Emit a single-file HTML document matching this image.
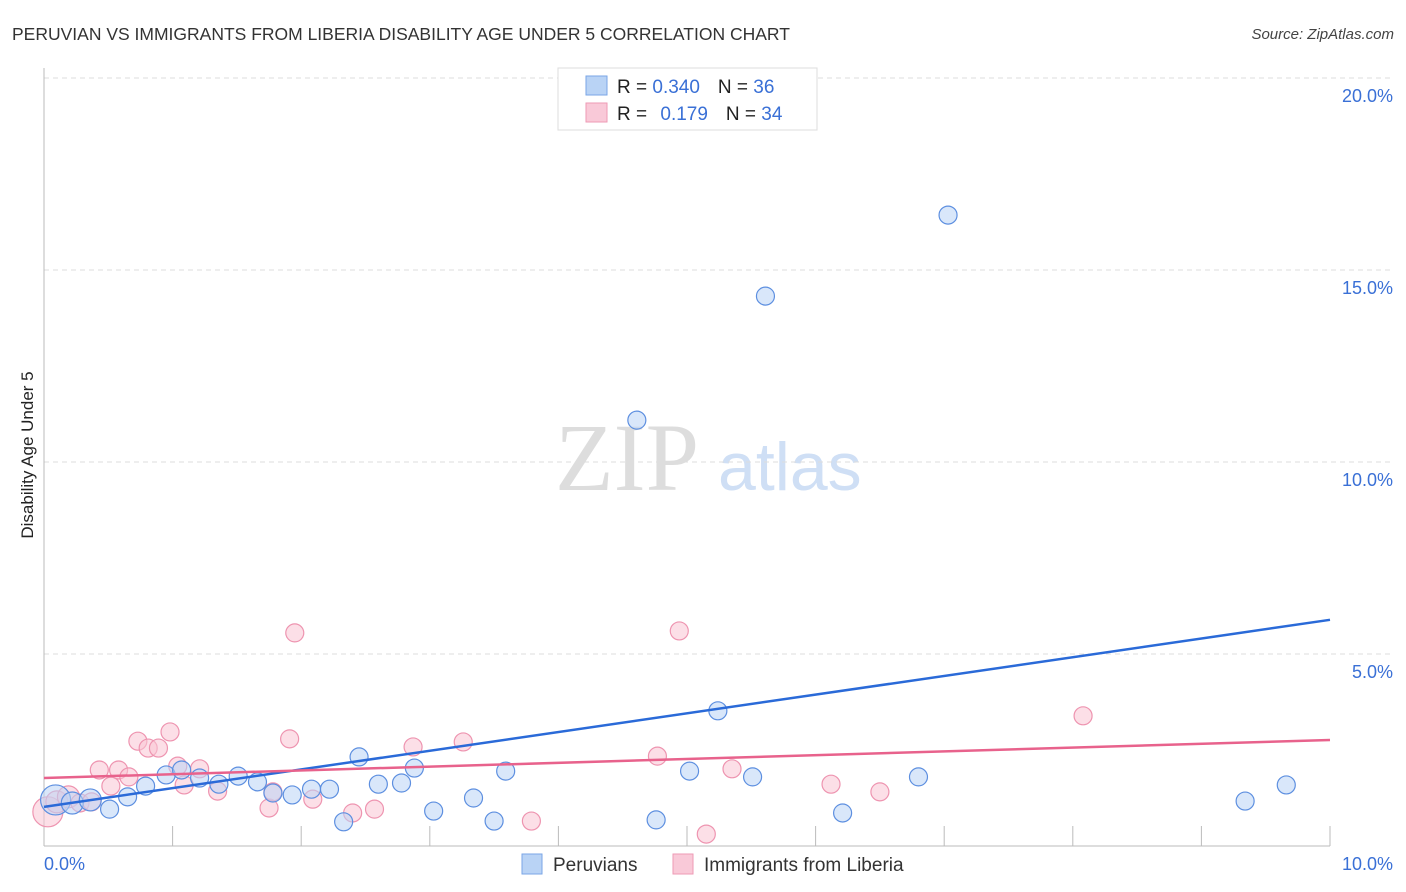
<!DOCTYPE html>
<html><head><meta charset="utf-8"><style>
body{margin:0;background:#fff;font-family:"Liberation Sans",sans-serif;}
svg{display:block}
</style></head><body>
<svg id="c" width="1406" height="892" font-family="Liberation Sans, sans-serif">
<text x="12" y="40" font-size="17.5" fill="#333">PERUVIAN VS IMMIGRANTS FROM LIBERIA DISABILITY AGE UNDER 5 CORRELATION CHART</text>
<text x="1394" y="39" font-size="15" fill="#444" font-style="italic" text-anchor="end">Source: ZipAtlas.com</text>
<text x="33" y="455" font-size="17" fill="#222" transform="rotate(-90 33 455)" text-anchor="middle">Disability Age Under 5</text>
<text x="555" y="490" font-size="96" fill="#ddd" font-family="Liberation Serif, serif">ZIP</text>
<text x="718" y="490" font-size="68" fill="#cfdff5">atlas</text>
<g id="grid"></g><g id="axes"></g><g id="pts"></g><g id="lines"></g>
<g>
<rect x="558" y="68" width="259" height="62" fill="#fff" stroke="#ddd"/>
<rect x="586" y="76" width="21" height="19" fill="#b9d3f5" stroke="#7aa6e6"/>
<rect x="586" y="103" width="21" height="19" fill="#f9c9d8" stroke="#ee9ab5"/>
<text x="617" y="93" font-size="19" fill="#222">R = <tspan fill="#3a70d6">0.340</tspan><tspan dx="18">N = </tspan><tspan fill="#3a70d6">36</tspan></text>
<text x="617" y="120" font-size="19" fill="#222">R = <tspan dx="8" fill="#3a70d6">0.179</tspan><tspan dx="18">N = </tspan><tspan fill="#3a70d6">34</tspan></text>
</g>
<g>
<rect x="522" y="854" width="20" height="20" fill="#b9d3f5" stroke="#7aa6e6"/>
<text x="553" y="871" font-size="19" fill="#333">Peruvians</text>
<rect x="673" y="854" width="20" height="20" fill="#f9c9d8" stroke="#ee9ab5"/>
<text x="704" y="871" font-size="19" fill="#333">Immigrants from Liberia</text>
</g>
</svg>
<script>
const xTicks=[0,1,2,3,4,5,6,7,8,9,10];
const yTicks=[5,10,15,20];
const xLabels=["0.0%","10.0%"];
const blueX=[0.09,0.22,0.36,0.51,0.65,0.79,0.95,1.07,1.21,1.36,1.51,1.66,1.78,1.93,2.08,2.22,2.33,2.45,2.60,2.78,2.88,3.03,3.34,3.50,3.59,4.61,4.76,5.02,5.24,5.51,5.61,6.21,6.80,7.03,9.34,9.66];
const blueY=[1.20,1.12,1.20,0.96,1.28,1.56,1.85,1.98,1.77,1.61,1.82,1.67,1.38,1.33,1.48,1.48,0.63,2.32,1.61,1.64,2.03,0.91,1.25,0.65,1.95,11.09,0.68,1.95,3.52,1.80,14.32,0.86,1.80,16.43,1.17,1.59];
const pinkX=[0.03,0.10,0.19,0.28,0.37,0.43,0.52,0.58,0.66,0.73,0.81,0.89,0.98,1.04,1.09,1.21,1.35,1.75,1.78,1.91,1.95,2.09,2.40,2.57,2.87,3.26,3.79,4.77,4.94,5.15,5.35,6.12,6.50,8.08];
const pinkY=[0.89,1.15,1.28,1.12,1.15,1.98,1.56,1.98,1.80,2.73,2.55,2.55,2.97,2.08,1.59,2.01,1.43,0.99,1.41,2.79,5.55,1.22,0.86,0.96,2.58,2.71,0.65,2.34,5.60,0.31,2.01,1.61,1.41,3.39];
const blueTrend=[1.02,5.89];
const pinkTrend=[1.77,2.76];
const NS="http://www.w3.org/2000/svg";
const X=v=>44+v*128.6, Y=v=>846-v*38.4;
function mk(p,t,a){const e=document.createElementNS(NS,t);for(const k in a)e.setAttribute(k,a[k]);p.appendChild(e);return e;}
const grid=document.getElementById('grid'),axes=document.getElementById('axes'),pts=document.getElementById('pts'),lines=document.getElementById('lines');
yTicks.forEach(v=>{
 const l=mk(grid,'line',{x1:44,x2:1392,y1:Y(v),y2:Y(v),stroke:'#ddd','stroke-dasharray':'5,4'});
 
 
 const t=mk(grid,'text',{x:1393,y:Y(v)+24,'font-size':18,fill:'#3a70d6','text-anchor':'end'});
 t.textContent=v.toFixed(1)+'%';
 
 
});
let a=mk(axes,'line',{x1:44,x2:44,y1:68,y2:846,stroke:'#bbb'});


a=mk(axes,'line',{x1:44,x2:1330,y1:846,y2:846,stroke:'#bbb'});


xTicks.forEach(v=>{
 const t=mk(axes,'line',{x1:X(v),x2:X(v),y1:826,y2:846,stroke:'#bbb'});
 
 
});
[[0,'start',44],[10,'end',1393]].forEach((d,i)=>{
 const t=mk(axes,'text',{x:d[2],y:870,'font-size':18,fill:'#3a70d6','text-anchor':d[1]});
 t.textContent=xLabels[i];
 
 
});
function dots(xs,ys,fill,stroke,name){
 xs.forEach((x,i)=>{
  const r=i==0?15:(i<3?11:9);
  const c=mk(pts,'circle',{cx:X(x),cy:Y(ys[i]),r:r,fill:fill,'fill-opacity':0.55,stroke:stroke,'stroke-width':1.2});
  
  
 });
}
dots(pinkX,pinkY,'#f9c4d4','#ee94b0','point-liberia');
dots(blueX,blueY,'#b9d3f5','#5d8fe0','point-peruvians');
let l=mk(lines,'line',{x1:X(0),x2:X(10),y1:Y(blueTrend[0]),y2:Y(blueTrend[1]),stroke:'#2a6ad8','stroke-width':2.5});


l=mk(lines,'line',{x1:X(0),x2:X(10),y1:Y(pinkTrend[0]),y2:Y(pinkTrend[1]),stroke:'#e8628c','stroke-width':2.5});


</script>
</body></html>
